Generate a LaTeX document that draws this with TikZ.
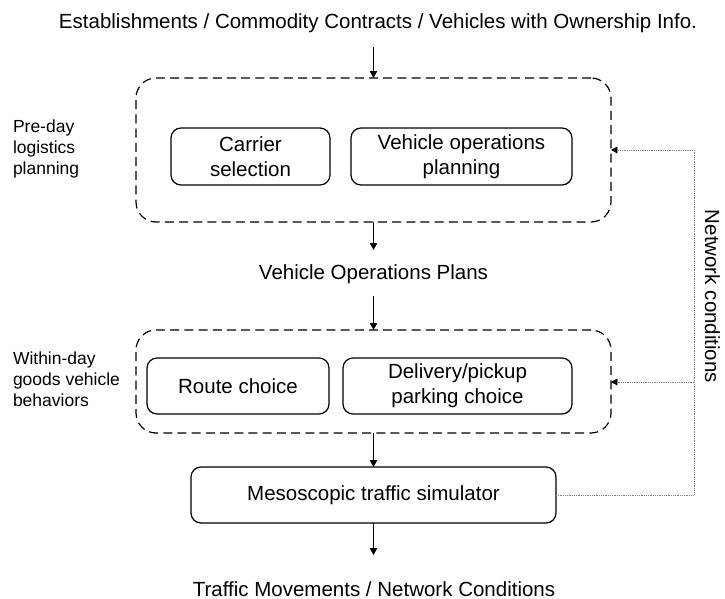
\documentclass[tikz,border=0pt]{standalone}
\usepackage{fontspec}
\setmainfont{Liberation Sans}
\usetikzlibrary{arrows.meta}

\begin{document}
\begin{tikzpicture}[x={(0.5pt,0pt)},y={(0pt,-0.5pt)},
  every node/.style={font=\fontsize{10.25}{12.5}\selectfont, outer sep=0pt, align=center},
  task/.style={draw, line width=0.6pt, rounded corners=5pt, inner sep=0pt},
  stage/.style={draw, line width=0.6pt, dash pattern=on 4.5pt off 2.6pt, rounded corners=10pt},
  side/.style={font=\fontsize{8.75}{10.5}\selectfont, align=left, anchor=west, inner sep=0pt},
  flow/.style={line width=0.45pt, -{Triangle[length=3.4pt,width=3.6pt]}},
  feedback/.style={gray, line width=0.4pt, dash pattern=on 0.4pt off 0.5pt, -{Triangle[length=3.2pt,width=3.4pt,color=black]}}]
\useasboundingbox (0,0) rectangle (725,599);

% inputs and outputs
\node[anchor=base] (input) at (378,29) {Establishments / Commodity Contracts / Vehicles with Ownership Info.};
\node[anchor=base] (plans) at (373.5,280) {Vehicle Operations Plans};
\node[anchor=base] (output) at (374,597) {Traffic Movements / Network Conditions};

% pre-day stage
\node[stage, minimum width=237.5pt, minimum height=72pt] (preday) at (373.5,150) {};
\node[task, minimum width=79.5pt, minimum height=28.5pt] (carrier) at (250.5,156.5) {Carrier\\selection};
\node[task, minimum width=110.5pt, minimum height=28.5pt] (vehops) at (461.5,156.5) {Vehicle operations\\planning};
\node[side] (predaylbl) at (13,148.5) {Pre-day\\logistics\\planning};

% within-day stage
\node[stage, minimum width=237.5pt, minimum height=51.5pt] (withinday) at (373.5,381.5) {};
\node[task, minimum width=91pt, minimum height=28pt] (route) at (238,386) {Route choice};
\node[task, minimum width=114.5pt, minimum height=28pt] (parking) at (457.5,386) {Delivery/pickup\\parking choice};
\node[side] (withindaylbl) at (13,379) {Within-day\\goods vehicle\\behaviors};

% simulator
\node[task, minimum width=182.5pt, minimum height=28pt] (sim) at (373.5,495) {Mesoscopic traffic simulator};

% main flow
\coordinate (a0) at (373.5,47);
\coordinate (a1) at (373.5,250);
\coordinate (a2) at (373.5,296);
\coordinate (a3) at (373.5,555);
\draw[flow] (a0) -- (preday.north);
\draw[flow] (preday.south) -- (a1);
\draw[flow] (a2) -- (withinday.north);
\draw[flow] (withinday.south) -- (sim.north);
\draw[flow] (sim.south) -- (a3);

% network conditions fed back
\coordinate (fb0) at (694,495);
\coordinate (fb1) at (694,150);
\coordinate (fb2) at (694,382);
\draw[feedback] (sim.east) -- (fb0) -- (fb1) -- (preday.east);
\draw[feedback] (fb2) -- (withinday.east |- fb2);
\node[rotate=-90, anchor=base] (netlbl) at (705,296.5) {Network conditions};
\end{tikzpicture}
\end{document}
